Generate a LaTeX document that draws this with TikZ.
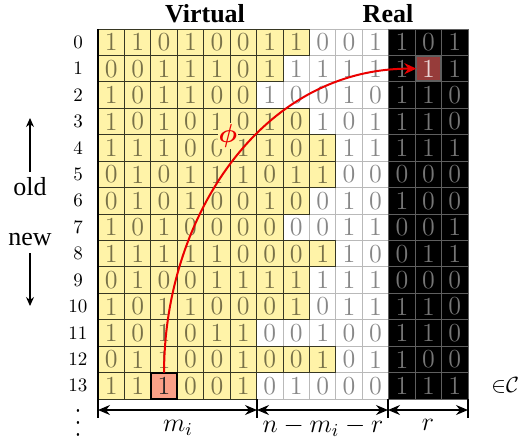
\documentclass[tikz,border=0pt]{standalone}
\usepackage{fix-cm}
\usepackage{amsmath,bm}
\usepackage{fontspec}
\newfontfamily\tnr{Liberation Serif}
\usetikzlibrary{arrows.meta}
\definecolor{vyellow}{RGB}{255,243,168}
\definecolor{vdigit}{RGB}{120,113,72}
\definecolor{vline}{RGB}{55,55,35}
\definecolor{pdigit}{RGB}{135,135,135}
\definecolor{pline}{RGB}{185,185,185}
\definecolor{rdigit}{RGB}{118,118,118}
\definecolor{rline}{RGB}{95,95,95}
\definecolor{srcfill}{RGB}{250,160,135}
\definecolor{dstfill}{RGB}{150,60,58}
\definecolor{dsttext}{RGB}{235,215,215}
\definecolor{phired}{RGB}{235,0,0}
\tikzset{
  cellbase/.style={minimum size=13.215pt, inner sep=0pt, outer sep=0pt, line width=0.45pt,
    font=\fontsize{13}{13}\selectfont},
  virtcell/.style={cellbase, fill=vyellow, draw=vline, text=vdigit},
  plaincell/.style={cellbase, fill=white, draw=pline, text=pdigit},
  realcell/.style={cellbase, fill=black, draw=rline, text=rdigit},
  srcbox/.style={cellbase, fill=srcfill, draw=black, line width=0.9pt, text=black!85},
  dstbox/.style={cellbase, minimum size=12pt, fill=dstfill, draw=rline, line width=0.3pt, text=dsttext},
  rowlab/.style={font=\fontsize{9.5}{10}\selectfont, inner sep=0pt},
  title/.style={font=\fontsize{13}{15}\selectfont\tnr\bfseries, inner sep=0pt},
  sidelab/.style={font=\fontsize{13}{15}\selectfont\tnr, inner sep=0pt},
  dimlab/.style={font=\fontsize{13}{15}\selectfont, inner sep=0pt},
  dimline/.style={line width=0.6pt, {Stealth[length=6pt,width=5pt,inset=2pt]}-{Stealth[length=6pt,width=5pt,inset=2pt]}},
  tickline/.style={line width=0.6pt},
  sidearrow/.style={line width=0.6pt, -{Stealth[length=4.5pt,width=4pt]}},
  phiarrow/.style={draw=phired, line width=1pt, -{Stealth[length=6pt,width=5.5pt]}},
  philabel/.style={text=phired, fill=vyellow, inner sep=0.6pt, font=\fontsize{13}{15}\selectfont},
}
\begin{document}
\begin{tikzpicture}[x=0.5pt,y=-0.5pt]
\useasboundingbox (0,0) rectangle (520,441);
\def\rowdata{0/7/{1,1,0,1,0,0,1,1,0,0,1,1,0,1},
1/6/{0,0,1,1,1,0,1,1,1,1,1,1,1,1},
2/5/{1,0,1,1,0,0,1,0,0,1,0,1,1,0},
3/7/{1,0,1,0,1,0,1,0,1,0,1,1,1,0},
4/8/{1,1,1,0,0,1,1,0,1,1,1,1,1,1},
5/8/{0,1,0,1,1,1,0,1,1,0,0,0,0,0},
6/7/{0,1,0,1,0,0,1,0,0,1,0,1,0,0},
7/6/{1,0,1,0,0,0,0,0,0,1,1,0,0,1},
8/8/{1,1,1,1,1,0,0,0,1,1,0,0,1,1},
9/7/{0,1,0,0,1,1,1,1,1,1,1,0,0,0},
10/7/{1,0,1,1,0,0,0,1,0,1,1,1,1,0},
11/5/{1,0,1,0,1,1,0,0,1,0,0,1,1,0},
12/8/{0,1,1,0,0,1,0,0,1,0,1,1,0,0},
13/5/{1,1,1,0,0,1,0,1,0,0,0,1,1,1}}
% non-virtual cells first
\foreach \r/\Y/\vals in \rowdata {
  \foreach \v [count=\c from 0] in \vals {
    \ifnum\c>\Y\relax
      \ifnum\c>10\relax \def\st{realcell}\else\def\st{plaincell}\fi
      \ifnum\numexpr\r*100+\c\relax=112\relax
        \node[realcell] (bg-\r-\c) at ({98+(\c+0.5)*26.43},{29+(\r+0.5)*26.43}) {};
      \else
        \node[\st] (c-\r-\c) at ({98+(\c+0.5)*26.43},{29+(\r+0.5)*26.43}) {\v};
      \fi
    \fi
  }
}
% virtual cells on top
\foreach \r/\Y/\vals in \rowdata {
  \foreach \v [count=\c from 0] in \vals {
    \ifnum\c>\Y\relax\else
      \ifnum\numexpr\r*100+\c\relax=1302\relax\else
        \node[virtcell] (c-\r-\c) at ({98+(\c+0.5)*26.43},{29+(\r+0.5)*26.43}) {\v};
      \fi
    \fi
  }
}
% special cells
\node[srcbox] (c-13-2) at ({98+2.5*26.43},{29+13.5*26.43}) {1};
\node[dstbox] (c-1-12) at ({98+12.5*26.43},{29+1.5*26.43}) {1};
% row labels
\foreach \r in {0,...,13} {
  \node[rowlab] (lab-\r) at (78,{29+(\r+0.5)*26.43}) {\r};
}
\node[inner sep=0pt, anchor=base] (dots) at (78,436) {\smash{\scalebox{1.15}[1.45]{$\vdots$}}};
% titles
\node[title] (virt) at (205,14) {Virtual};
\node[title] (real) at (388,14) {Real};
% old / new
\node[sidelab] (old) at (30,187) {old};
\node[sidelab] (new) at (30,239) {new};
\coordinate (oldtail) at (30,172);
\coordinate (oldhead) at (30,118);
\coordinate (newtail) at (30,253);
\coordinate (newhead) at (30,306);
\draw[sidearrow] (oldtail) -- (oldhead);
\draw[sidearrow] (newtail) -- (newhead);
% borders and ticks
\coordinate (gtl) at (98,29);
\coordinate (t0) at (98,418);
\coordinate (t1a) at (257,399);
\coordinate (t1) at (257,418);
\coordinate (t2a) at (388,399);
\coordinate (t2) at (388,418);
\coordinate (t3a) at (468,399);
\coordinate (t3) at (468,418);
\draw[tickline, line width=0.8pt] (gtl) -- (t0);
\draw[tickline] (t1a) -- (t1);
\draw[tickline] (t2a) -- (t2);
\draw[tickline] (t3a) -- (t3);
\coordinate (d0) at (98,410);
\coordinate (d1) at (257,410);
\coordinate (d2) at (388,410);
\coordinate (d3) at (468,410);
\draw[dimline] (d0) -- (d1);
\draw[dimline] (d1) -- (d2);
\draw[dimline] (d2) -- (d3);
\node[dimlab] (lm) at (178,428) {$m_i$};
\node[dimlab] (lnm) at (323,427) {$n-m_i-r$};
\node[dimlab] (lr) at (428,425) {$r$};
\node[dimlab, font=\fontsize{11}{13}\selectfont, anchor=west] (inC) at (491,385) {${\in}\mathcal{C}$};
% phi
\node[philabel] (phi) at (228,136) {$\boldsymbol{\phi}$};
\draw[phiarrow] (c-13-2.north) .. controls +(0,-155) and +(-155,0) .. (c-1-12.west);
\end{tikzpicture}
\end{document}
